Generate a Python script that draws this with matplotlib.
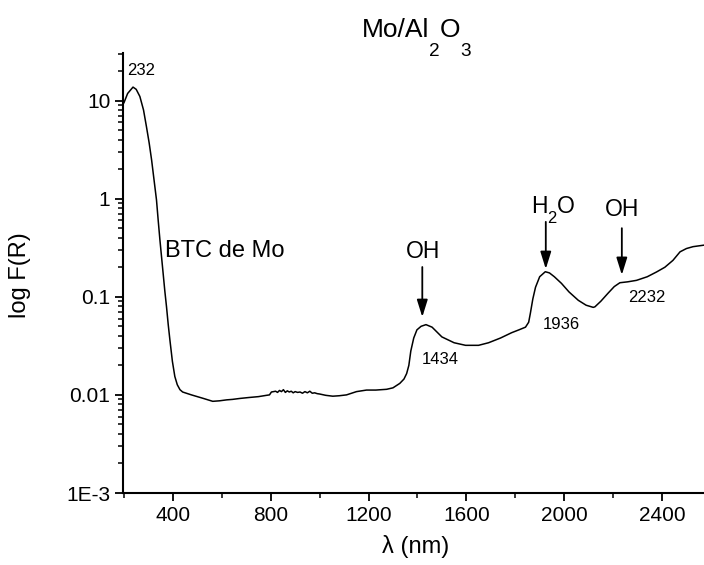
import matplotlib
matplotlib.use("Agg")
import matplotlib.pyplot as plt
from matplotlib.ticker import FixedLocator, LogLocator, NullFormatter
from matplotlib.transforms import IdentityTransform

plt.rcParams['font.family'] = ['Liberation Sans', 'DejaVu Sans']

# spectrum
wavelength = [200, 215, 237, 250, 265, 280, 292, 303, 313, 323, 333, 340, 347, 354, 360,
              367, 374, 381, 388, 398, 408, 418, 429, 440, 455, 476, 500, 525, 550, 563,
              590, 620, 644, 674, 710, 750, 783, 795, 803, 812, 820, 828, 836, 844, 852,
              860, 868, 876, 884, 892, 900, 910, 920, 930, 940, 950, 960, 970, 980, 990,
              1001, 1025, 1054, 1080, 1110, 1151, 1192, 1230, 1274, 1300, 1328, 1345, 1356,
              1365, 1373, 1385, 1398, 1415, 1435, 1460, 1500, 1550, 1597, 1650, 1691, 1740,
              1785, 1815, 1842, 1855, 1862, 1872, 1883, 1900, 1923, 1940, 1960, 1989, 2020,
              2058, 2090, 2119, 2126, 2150, 2180, 2205, 2228, 2260, 2296, 2340, 2378, 2412,
              2445, 2474, 2500, 2527, 2550, 2580]
logfr = [9.5, 11.8, 13.7, 13.0, 11.0, 8.0, 5.4, 3.7, 2.48, 1.55, 0.97, 0.60, 0.38, 0.25,
         0.175, 0.115, 0.079, 0.052, 0.036, 0.022, 0.0154, 0.0127, 0.0113, 0.0107, 0.0104,
         0.0100, 0.0096, 0.0092, 0.0088, 0.0086, 0.0087, 0.0089, 0.0090, 0.0092, 0.0094,
         0.0096, 0.0099, 0.0100, 0.0107, 0.0108, 0.0109, 0.0106, 0.0111, 0.0108, 0.0113,
         0.0106, 0.0110, 0.0107, 0.0109, 0.0105, 0.0108, 0.0106, 0.0107, 0.0104, 0.0108,
         0.0105, 0.0109, 0.0104, 0.0105, 0.0103, 0.0102, 0.0099, 0.0097, 0.0098, 0.0100,
         0.0108, 0.0112, 0.0112, 0.0114, 0.0118, 0.0131, 0.0145, 0.0165, 0.020, 0.028,
         0.038, 0.046, 0.050, 0.052, 0.049, 0.039, 0.034, 0.032, 0.032, 0.034, 0.038, 0.043,
         0.046, 0.049, 0.055, 0.068, 0.095, 0.125, 0.160, 0.180, 0.175, 0.160, 0.137, 0.112,
         0.092, 0.082, 0.078, 0.079, 0.090, 0.109, 0.127, 0.139, 0.142, 0.147, 0.160, 0.179,
         0.200, 0.235, 0.287, 0.310, 0.324, 0.330, 0.338]

fig = plt.figure(figsize=(7.04, 5.65), dpi=100)
ax = fig.add_axes([0.1747, 0.1274, 0.8253, 0.7788])
ax.plot(wavelength, logfr, color='black', lw=1.1)

ax.set_yscale('log')
ax.set_ylim(1e-3, 30.5)
ax.set_xlim(196, 2572)

ax.xaxis.set_major_locator(FixedLocator([400, 800, 1200, 1600, 2000, 2400]))
ax.xaxis.set_minor_locator(FixedLocator([200, 600, 1000, 1400, 1800, 2200]))
ax.yaxis.set_major_locator(FixedLocator([1e-3, 1e-2, 1e-1, 1, 10]))
ax.set_yticklabels(['1E-3', '0.01', '0.1', '1', '10'])
ax.yaxis.set_minor_locator(LogLocator(base=10, subs=range(2, 10)))
ax.yaxis.set_minor_formatter(NullFormatter())

for side in ['top', 'right']:
    ax.spines[side].set_visible(False)
for side in ['left', 'bottom']:
    ax.spines[side].set_linewidth(1.5)
ax.tick_params(which='major', direction='out', length=6, width=1.3, labelsize=15, pad=3)
ax.tick_params(which='minor', direction='out', length=3.5, width=1.1)

H = 565
fig.text(20 / 704, 1 - 275 / H, 'log F(R)', fontsize=17, rotation=90, ha='center', va='center')
fig.text(416 / 704, 1 - 546 / H, 'λ (nm)', fontsize=17, ha='center', va='center')

renderer = fig.canvas.get_renderer()


def sub_text(xc, ybase, parts, size, drop):
    # text with Origin-style low subscripts, placed in pixel coords (centre, baseline)
    pieces = []
    total = 0
    for s, is_sub in parts:
        fs = size * 0.72 if is_sub else size
        t = fig.text(0, 0, s, fontsize=fs, transform=IdentityTransform(),
                     ha='left', va='baseline')
        w = t.get_window_extent(renderer).width
        pieces.append((t, w, is_sub))
        total += w
    x = xc - total / 2
    for t, w, is_sub in pieces:
        t.set_position((x, ybase - drop if is_sub else ybase))
        x += w


sub_text(416, H - 37, [('Mo/Al', False), ('2', True), ('O', False), ('3', True)], 19, 19)

ax.text(212, 20, '232', fontsize=12, ha='left', va='center')
ax.text(367, 0.29, 'BTC de Mo', fontsize=17, ha='left', va='center')
ax.text(1418, 0.0227, '1434', fontsize=12, ha='left', va='center')
ax.text(1913, 0.0516, '1936', fontsize=12, ha='left', va='center')
ax.text(2261, 0.0973, '2232', fontsize=12, ha='left', va='center')

arrow = dict(arrowstyle='-|>,head_length=0.8,head_width=0.25', color='black',
             lw=1.3, mutation_scale=13, shrinkA=0, shrinkB=0)
ax.annotate('', xy=(1420, 0.0622), xytext=(1420, 0.201), arrowprops=arrow)
ax.annotate('', xy=(1925, 0.192), xytext=(1925, 0.58), arrowprops=arrow)
ax.annotate('', xy=(2236, 0.167), xytext=(2236, 0.50), arrowprops=arrow)
ax.text(1422, 0.249, 'OH', fontsize=16.5, ha='center', va='baseline')
ax.text(2236, 0.667, 'OH', fontsize=16.5, ha='center', va='baseline')
hx, hy = ax.transData.transform((1954, 0.715))
sub_text(hx, hy, [('H', False), ('2', True), ('O', False)], 16.5, 10)

fig.savefig('out.png', dpi=100)
